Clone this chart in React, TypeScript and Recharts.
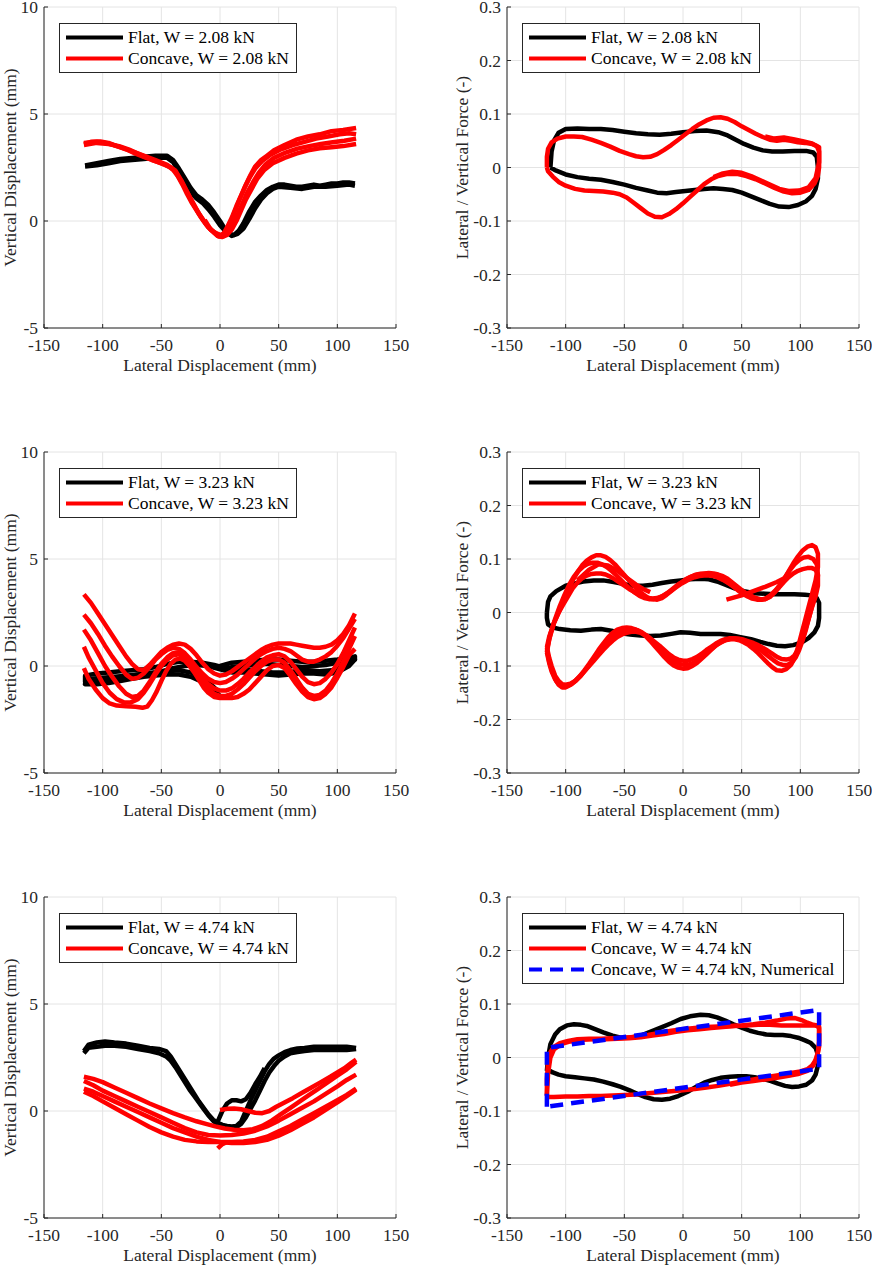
import { LineChart, Line, XAxis, YAxis, CartesianGrid, Legend } from 'recharts';

type Pt = [number, number];

const FONT = '"Liberation Serif", "Times New Roman", serif';
const FS = 17.5;
const AXIS = '#262626';

const xTicks = [-150, -100, -50, 0, 50, 100, 150];
const dispTicks = [-5, 0, 5, 10];
const forceTicks = [-0.3, -0.2, -0.1, 0, 0.1, 0.2, 0.3];

const xLabel = 'Lateral Displacement (mm)';
const dispLabel = 'Vertical Displacement (mm)';
const forceLabel = 'Lateral / Vertical Force (-)';

// ---------- W = 2.08 kN, vertical displacement ----------
const flatDisp208a: Pt[] = [[-115, 2.6], [-105, 2.7], [-95, 2.8], [-85, 2.9], [-75, 2.95], [-65, 3.0], [-55, 3.05], [-45, 3.05], [-40, 2.85], [-35, 2.45], [-30, 2.0], [-25, 1.55], [-20, 1.2], [-15, 1.0], [-10, 0.75], [-5, 0.4], [0, 0.0], [4, -0.35], [8, -0.6], [12, -0.65], [16, -0.45], [20, -0.1], [25, 0.45], [30, 0.9], [35, 1.2], [40, 1.45], [45, 1.6], [50, 1.7], [55, 1.7], [60, 1.65], [65, 1.6], [70, 1.6], [75, 1.65], [80, 1.7], [85, 1.65], [90, 1.7], [95, 1.75], [100, 1.75], [105, 1.8], [110, 1.8], [115, 1.75]];
const flatDisp208b: Pt[] = [[115, 1.65], [110, 1.7], [100, 1.65], [90, 1.6], [80, 1.6], [70, 1.5], [60, 1.55], [50, 1.6], [45, 1.5], [40, 1.3], [35, 1.0], [30, 0.6], [25, 0.1], [20, -0.35], [15, -0.6], [10, -0.7], [5, -0.5], [0, -0.2], [-5, 0.2], [-10, 0.55], [-15, 0.85], [-20, 1.05], [-25, 1.35], [-30, 1.8], [-35, 2.3], [-40, 2.75], [-45, 2.95], [-55, 2.95], [-65, 2.9], [-75, 2.85], [-85, 2.8], [-95, 2.7], [-105, 2.6], [-115, 2.55]];
const concDisp208a: Pt[] = [[-116, 3.6], [-110, 3.7], [-102, 3.72], [-95, 3.65], [-88, 3.5], [-80, 3.35], [-72, 3.15], [-65, 3.0], [-58, 2.85], [-50, 2.7], [-44, 2.55], [-40, 2.4], [-36, 2.1], [-32, 1.7], [-28, 1.25], [-24, 0.85], [-20, 0.5], [-16, 0.15], [-12, -0.15], [-8, -0.4], [-4, -0.55], [0, -0.65], [3, -0.6], [6, -0.3], [10, 0.15], [14, 0.7], [18, 1.2], [22, 1.7], [26, 2.15], [30, 2.55], [35, 2.85], [40, 3.05], [46, 3.3], [55, 3.55], [65, 3.8], [75, 3.95], [85, 4.05], [95, 4.2], [105, 4.25], [116, 4.35]];
const concDisp208b: Pt[] = [[116, 3.6], [105, 3.5], [95, 3.45], [85, 3.4], [75, 3.3], [65, 3.15], [55, 2.95], [45, 2.7], [38, 2.4], [32, 2.0], [27, 1.5], [22, 1.0], [18, 0.5], [14, 0.0], [10, -0.4], [6, -0.65], [2, -0.75], [-2, -0.7], [-6, -0.5], [-10, -0.3], [-14, 0.0], [-18, 0.35], [-22, 0.75], [-26, 1.15], [-30, 1.55], [-34, 1.95], [-38, 2.3], [-42, 2.5], [-48, 2.65], [-55, 2.8], [-62, 2.95], [-70, 3.15], [-78, 3.35], [-86, 3.5], [-95, 3.6], [-105, 3.65], [-116, 3.55]];
const concDisp208c: Pt[] = [[-116, 3.65], [-105, 3.7], [-95, 3.62], [-85, 3.45], [-75, 3.25], [-65, 3.05], [-55, 2.85], [-45, 2.62], [-38, 2.35], [-33, 1.9], [-28, 1.35], [-23, 0.8], [-18, 0.35], [-13, -0.05], [-8, -0.4], [-3, -0.6], [1, -0.7], [5, -0.45], [9, -0.05], [13, 0.5], [17, 1.05], [21, 1.55], [25, 2.0], [30, 2.45], [36, 2.8], [43, 3.1], [52, 3.35], [62, 3.55], [72, 3.7], [82, 3.85], [92, 3.95], [102, 4.05], [110, 4.1], [116, 4.05]];
const concDisp208d: Pt[] = [[116, 3.85], [106, 3.75], [96, 3.68], [86, 3.6], [76, 3.5], [66, 3.38], [56, 3.2], [46, 2.95], [39, 2.65], [33, 2.25], [28, 1.8], [23, 1.3], [19, 0.8], [15, 0.3], [11, -0.15], [7, -0.5], [3, -0.7], [-1, -0.72], [-5, -0.55], [-9, -0.3], [-13, 0.05]];

// ---------- W = 2.08 kN, force ratio ----------
const flatForce208: Pt[] = [[-113, 0.0], [-112, 0.03], [-110, 0.05], [-106, 0.065], [-100, 0.072], [-90, 0.073], [-80, 0.072], [-70, 0.072], [-60, 0.07], [-50, 0.067], [-40, 0.064], [-30, 0.062], [-20, 0.061], [-10, 0.063], [0, 0.066], [10, 0.068], [20, 0.069], [30, 0.066], [38, 0.06], [45, 0.052], [52, 0.044], [60, 0.037], [68, 0.032], [76, 0.03], [85, 0.03], [95, 0.031], [105, 0.031], [111, 0.028], [114, 0.02], [115, 0.0], [115, -0.02], [113, -0.04], [110, -0.053], [105, -0.063], [98, -0.07], [90, -0.074], [82, -0.073], [74, -0.068], [66, -0.061], [58, -0.054], [50, -0.047], [42, -0.042], [34, -0.04], [26, -0.039], [18, -0.04], [10, -0.042], [2, -0.044], [-6, -0.046], [-14, -0.048], [-22, -0.047], [-30, -0.043], [-40, -0.038], [-50, -0.032], [-60, -0.027], [-70, -0.023], [-80, -0.021], [-90, -0.018], [-100, -0.013], [-108, -0.006], [-113, 0.0]];
const concForce208a: Pt[] = [[-116, 0.0], [-116, 0.02], [-115, 0.035], [-112, 0.047], [-107, 0.054], [-100, 0.058], [-93, 0.058], [-86, 0.057], [-78, 0.052], [-70, 0.046], [-62, 0.039], [-54, 0.031], [-46, 0.025], [-40, 0.021], [-34, 0.019], [-28, 0.02], [-22, 0.025], [-16, 0.033], [-10, 0.042], [-4, 0.052], [2, 0.062], [8, 0.072], [14, 0.081], [20, 0.088], [26, 0.093], [32, 0.094], [38, 0.091], [44, 0.085], [50, 0.077], [56, 0.07], [62, 0.063], [68, 0.057], [74, 0.052], [80, 0.05], [86, 0.052], [92, 0.05], [98, 0.047], [104, 0.046], [110, 0.044], [114, 0.04], [116, 0.03], [116, 0.0], [115, -0.015], [112, -0.03], [107, -0.042], [100, -0.047], [93, -0.048], [86, -0.045], [78, -0.038], [70, -0.03], [62, -0.022], [54, -0.016], [46, -0.012], [38, -0.012], [30, -0.016], [24, -0.022], [18, -0.031], [12, -0.043], [6, -0.055], [0, -0.067], [-6, -0.078], [-12, -0.087], [-18, -0.093], [-24, -0.092], [-30, -0.086], [-36, -0.076], [-42, -0.066], [-48, -0.056], [-54, -0.05], [-60, -0.047], [-68, -0.045], [-76, -0.044], [-84, -0.043], [-92, -0.04], [-100, -0.034], [-106, -0.027], [-111, -0.017], [-115, -0.007], [-116, 0.0]];
const concForce208b: Pt[] = [[70, 0.058], [78, 0.054], [86, 0.056], [94, 0.053], [102, 0.049], [110, 0.045], [116, 0.038], [116, 0.01], [113, -0.02], [107, -0.037], [99, -0.043], [90, -0.044], [82, -0.04], [74, -0.032], [66, -0.024], [58, -0.016], [50, -0.01], [42, -0.008], [34, -0.011], [26, -0.018]];

// ---------- W = 3.23 kN, vertical displacement ----------
const flatDisp323a: Pt[] = [[0, 0.0], [10, 0.15], [20, 0.2], [30, 0.25], [40, 0.3], [50, 0.3], [60, 0.25], [70, 0.2], [80, 0.2], [90, 0.25], [100, 0.3], [108, 0.35], [115, 0.45], [115, 0.3], [105, 0.0], [95, -0.2], [85, -0.25], [75, -0.2], [65, -0.25], [55, -0.3], [45, -0.3], [35, -0.25], [25, -0.2], [15, -0.15], [5, -0.1], [-5, 0.05], [-15, 0.15], [-25, 0.2], [-35, 0.2], [-45, 0.1], [-55, -0.05], [-65, -0.15], [-75, -0.2], [-85, -0.25], [-95, -0.3], [-105, -0.35], [-115, -0.45], [-115, -0.75], [-105, -0.7], [-95, -0.65], [-85, -0.55], [-75, -0.45], [-65, -0.35], [-55, -0.3], [-45, -0.25], [-35, -0.2], [-25, -0.3], [-15, -0.55], [-8, -0.85], [-3, -1.1], [0, -1.2]];
const flatDisp323b: Pt[] = [[0, -0.2], [10, -0.05], [20, 0.0], [30, 0.05], [40, 0.1], [50, 0.05], [60, 0.0], [70, -0.05], [80, 0.0], [90, 0.05], [100, 0.15], [108, 0.2], [115, 0.3], [110, 0.0], [100, -0.3], [90, -0.4], [80, -0.35], [70, -0.35], [60, -0.4], [50, -0.45], [40, -0.4], [30, -0.35], [20, -0.3], [10, -0.3], [0, -0.15], [-10, 0.0], [-20, 0.05], [-30, 0.0], [-40, -0.1], [-50, -0.25], [-60, -0.35], [-70, -0.4], [-80, -0.45], [-90, -0.5], [-100, -0.55], [-110, -0.6], [-115, -0.85], [-105, -0.85], [-95, -0.8], [-85, -0.7], [-75, -0.6], [-65, -0.5], [-55, -0.45], [-45, -0.4], [-35, -0.4], [-25, -0.5], [-15, -0.75], [-8, -1.0], [-3, -1.25], [0, -1.4]];
const concDisp323a: Pt[] = [[-116, 3.35], [-110, 2.95], [-104, 2.45], [-98, 1.95], [-92, 1.45], [-86, 0.95], [-80, 0.45], [-75, 0.1], [-70, -0.15], [-65, -0.2], [-60, 0.05], [-55, 0.35], [-50, 0.65], [-45, 0.85], [-40, 1.0], [-35, 1.05], [-30, 1.0], [-25, 0.8], [-20, 0.5], [-15, 0.15], [-10, -0.15], [-5, -0.35], [0, -0.45], [5, -0.4], [10, -0.25], [15, -0.05], [20, 0.15], [25, 0.35], [30, 0.55], [35, 0.75], [40, 0.9], [45, 1.0], [50, 1.05], [55, 1.05], [60, 1.05], [65, 1.0], [70, 0.95], [75, 0.9], [80, 0.85], [85, 0.85], [90, 0.9], [95, 1.0], [100, 1.2], [105, 1.5], [110, 1.9], [115, 2.45]];
const concDisp323b: Pt[] = [[-116, 2.4], [-110, 2.0], [-104, 1.5], [-98, 0.95], [-92, 0.45], [-86, 0.0], [-80, -0.4], [-75, -0.6], [-70, -0.55], [-65, -0.35], [-60, -0.05], [-55, 0.3], [-50, 0.55], [-45, 0.75], [-40, 0.85], [-35, 0.8], [-30, 0.6], [-25, 0.3], [-20, -0.05], [-15, -0.35], [-10, -0.6], [-5, -0.75], [0, -0.8], [5, -0.75], [10, -0.6], [15, -0.4], [20, -0.15], [25, 0.1], [30, 0.35], [35, 0.55], [40, 0.7], [45, 0.8], [50, 0.85], [55, 0.8], [60, 0.7], [65, 0.5], [70, 0.3], [75, 0.2], [80, 0.2], [85, 0.3], [90, 0.45], [95, 0.65], [100, 0.95], [105, 1.3], [110, 1.75], [115, 2.2]];
const concDisp323c: Pt[] = [[-116, 1.7], [-110, 1.2], [-104, 0.6], [-98, 0.0], [-92, -0.5], [-86, -0.95], [-80, -1.3], [-75, -1.45], [-70, -1.4], [-65, -1.15], [-60, -0.75], [-55, -0.3], [-50, 0.1], [-45, 0.4], [-40, 0.6], [-35, 0.65], [-30, 0.5], [-25, 0.2], [-20, -0.2], [-15, -0.55], [-10, -0.85], [-5, -1.05], [0, -1.15], [5, -1.15], [10, -1.05], [15, -0.85], [20, -0.6], [25, -0.3], [30, -0.05], [35, 0.2], [40, 0.4], [45, 0.5], [50, 0.55], [55, 0.45], [60, 0.2], [65, -0.15], [70, -0.5], [75, -0.75], [80, -0.85], [85, -0.8], [90, -0.6], [95, -0.3], [100, 0.1], [105, 0.6], [110, 1.2], [115, 1.8]];
const concDisp323d: Pt[] = [[-116, 0.9], [-112, 0.4], [-106, -0.2], [-100, -0.8], [-94, -1.25], [-88, -1.55], [-82, -1.7], [-76, -1.7], [-70, -1.55], [-65, -1.25], [-60, -0.85], [-55, -0.4], [-50, 0.0], [-45, 0.3], [-40, 0.5], [-35, 0.55], [-30, 0.4], [-25, 0.1], [-20, -0.3], [-15, -0.7], [-10, -1.05], [-5, -1.3], [0, -1.4], [5, -1.4], [10, -1.3], [15, -1.1], [20, -0.85], [25, -0.55], [30, -0.25], [35, 0.0], [40, 0.2], [45, 0.3], [50, 0.3], [55, 0.15], [60, -0.2], [65, -0.6], [70, -1.0], [75, -1.3], [80, -1.4], [85, -1.35], [90, -1.15], [95, -0.8], [100, -0.35], [105, 0.2], [110, 0.8], [115, 1.4]];
const concDisp323e: Pt[] = [[-116, -0.1], [-112, -0.6], [-106, -1.1], [-100, -1.5], [-94, -1.75], [-88, -1.85], [-80, -1.88], [-72, -1.9], [-66, -1.95], [-62, -1.9], [-58, -1.6], [-54, -1.2], [-50, -0.7], [-46, -0.25], [-42, 0.1], [-38, 0.3], [-34, 0.35], [-30, 0.25], [-26, 0.0], [-22, -0.3], [-18, -0.65], [-14, -1.0], [-10, -1.25], [-5, -1.45], [0, -1.5], [5, -1.5], [10, -1.5], [15, -1.45], [20, -1.3], [25, -1.1], [30, -0.8], [35, -0.5], [40, -0.2], [45, 0.0], [50, 0.05], [55, -0.1], [60, -0.45], [65, -0.85], [70, -1.2], [75, -1.45], [80, -1.55], [85, -1.5], [90, -1.3], [95, -1.0], [100, -0.55], [105, -0.05], [110, 0.5], [115, 0.8]];

// ---------- W = 3.23 kN, force ratio ----------
const flatForce323: Pt[] = [[-116, 0.0], [-115, 0.02], [-113, 0.03], [-108, 0.04], [-100, 0.05], [-93, 0.054], [-85, 0.058], [-76, 0.06], [-68, 0.06], [-59, 0.057], [-50, 0.053], [-42, 0.05], [-34, 0.05], [-26, 0.052], [-18, 0.055], [-10, 0.058], [-2, 0.06], [6, 0.062], [15, 0.063], [22, 0.062], [29, 0.058], [36, 0.052], [44, 0.045], [52, 0.04], [61, 0.036], [70, 0.035], [78, 0.034], [86, 0.034], [95, 0.034], [104, 0.033], [110, 0.032], [114, 0.027], [116, 0.018], [116, -0.01], [115, -0.025], [112, -0.037], [107, -0.048], [101, -0.056], [94, -0.061], [87, -0.063], [80, -0.062], [73, -0.059], [66, -0.055], [58, -0.05], [49, -0.046], [40, -0.042], [32, -0.04], [24, -0.04], [15, -0.04], [6, -0.038], [-2, -0.037], [-10, -0.04], [-19, -0.043], [-28, -0.044], [-36, -0.043], [-45, -0.041], [-53, -0.039], [-61, -0.034], [-70, -0.031], [-78, -0.032], [-87, -0.034], [-96, -0.033], [-105, -0.031], [-111, -0.028], [-115, -0.022], [-116, -0.01], [-116, 0.0]];
const concForce323a: Pt[] = [[-116, -0.075], [-114, -0.05], [-110, -0.02], [-106, 0.0], [-102, 0.02], [-98, 0.04], [-94, 0.06], [-90, 0.075], [-86, 0.088], [-82, 0.097], [-78, 0.103], [-74, 0.107], [-70, 0.107], [-66, 0.104], [-62, 0.098], [-58, 0.09], [-54, 0.08], [-50, 0.07], [-46, 0.06], [-42, 0.05], [-38, 0.041], [-34, 0.034], [-30, 0.028], [-26, 0.025], [-22, 0.024], [-18, 0.027], [-14, 0.033], [-10, 0.04], [-6, 0.048], [-2, 0.055], [2, 0.061], [6, 0.066], [10, 0.07], [14, 0.072], [18, 0.073], [22, 0.074], [26, 0.073], [30, 0.071], [34, 0.068], [38, 0.063], [42, 0.056], [46, 0.049], [50, 0.042], [54, 0.036], [58, 0.031], [62, 0.027], [66, 0.025], [70, 0.025], [74, 0.029], [78, 0.037], [82, 0.048], [86, 0.062], [90, 0.077], [94, 0.092], [98, 0.105], [102, 0.116], [106, 0.123], [110, 0.126], [113, 0.122], [115, 0.11], [115, 0.085], [113, 0.06], [110, 0.035], [107, 0.01], [104, -0.015], [101, -0.04], [98, -0.065], [95, -0.085], [92, -0.098], [88, -0.106], [84, -0.109], [80, -0.108], [76, -0.102], [72, -0.094], [68, -0.085], [64, -0.076], [60, -0.068], [56, -0.061], [52, -0.056], [48, -0.052], [44, -0.05], [40, -0.05], [36, -0.052], [32, -0.056], [28, -0.062], [24, -0.07], [20, -0.078], [16, -0.086], [12, -0.094], [8, -0.1], [4, -0.104], [0, -0.105], [-4, -0.103], [-8, -0.099], [-12, -0.092], [-16, -0.083], [-20, -0.073], [-24, -0.063], [-28, -0.053], [-32, -0.044], [-36, -0.037], [-40, -0.032], [-44, -0.029], [-48, -0.028], [-52, -0.029], [-56, -0.032], [-60, -0.038], [-64, -0.047], [-68, -0.058], [-72, -0.07], [-76, -0.083], [-80, -0.096], [-84, -0.108], [-88, -0.119], [-92, -0.128], [-96, -0.135], [-100, -0.14], [-103, -0.14], [-106, -0.135], [-109, -0.125], [-112, -0.11], [-114, -0.095], [-116, -0.075]];
const concForce323b: Pt[] = [[-116, -0.065], [-114, -0.045], [-110, -0.02], [-106, 0.0], [-102, 0.015], [-98, 0.03], [-94, 0.045], [-90, 0.056], [-86, 0.064], [-82, 0.069], [-78, 0.072], [-74, 0.073], [-70, 0.073], [-66, 0.071], [-62, 0.067], [-58, 0.062], [-54, 0.056], [-50, 0.05], [-46, 0.044], [-42, 0.039], [-38, 0.034], [-34, 0.03], [-30, 0.027], [-26, 0.026], [-22, 0.027], [-18, 0.03], [-14, 0.035], [-10, 0.041], [-6, 0.047], [-2, 0.053], [2, 0.058], [6, 0.063], [10, 0.066], [14, 0.068], [18, 0.069], [22, 0.069], [26, 0.068], [30, 0.065], [34, 0.061], [38, 0.056], [42, 0.05], [46, 0.044], [50, 0.038], [54, 0.033], [58, 0.029], [62, 0.026], [66, 0.024], [70, 0.025], [74, 0.03], [78, 0.038], [82, 0.047], [86, 0.057], [90, 0.066], [94, 0.073], [98, 0.078], [102, 0.081], [106, 0.083], [110, 0.083], [113, 0.08], [115, 0.07], [115, 0.05], [113, 0.03], [110, 0.01], [107, -0.012], [104, -0.035], [101, -0.055], [98, -0.07], [95, -0.08], [92, -0.086], [88, -0.088], [84, -0.087], [80, -0.083], [76, -0.077], [72, -0.071], [68, -0.066], [64, -0.061], [60, -0.057], [56, -0.054], [52, -0.051], [48, -0.049], [44, -0.048], [40, -0.048], [36, -0.05], [32, -0.053], [28, -0.058], [24, -0.064], [20, -0.07], [16, -0.077], [12, -0.083], [8, -0.087], [4, -0.09], [0, -0.09], [-4, -0.088], [-8, -0.084], [-12, -0.078], [-16, -0.07], [-20, -0.062], [-24, -0.055], [-28, -0.048], [-32, -0.042], [-36, -0.038], [-40, -0.036], [-44, -0.036], [-48, -0.038], [-52, -0.041], [-56, -0.046], [-60, -0.053], [-64, -0.061], [-68, -0.07], [-72, -0.08], [-76, -0.09], [-80, -0.1], [-84, -0.11], [-88, -0.12], [-92, -0.128], [-96, -0.133], [-100, -0.135], [-103, -0.134], [-106, -0.128], [-109, -0.118], [-112, -0.1], [-114, -0.085], [-116, -0.065]];
const concForce323c: Pt[] = [[-116, -0.07], [-113, -0.04], [-109, -0.012], [-105, 0.012], [-101, 0.033], [-97, 0.052], [-93, 0.067], [-89, 0.078], [-85, 0.086], [-81, 0.091], [-77, 0.093], [-73, 0.093], [-69, 0.09], [-65, 0.085], [-61, 0.078], [-57, 0.07], [-53, 0.061], [-49, 0.052], [-45, 0.044], [-41, 0.037], [-37, 0.031], [-33, 0.027], [-29, 0.025], [-25, 0.025], [-21, 0.027], [-17, 0.031], [-13, 0.037], [-9, 0.044], [-5, 0.051], [-1, 0.057], [3, 0.063], [7, 0.067], [11, 0.07], [15, 0.072], [19, 0.072], [23, 0.071], [27, 0.069], [31, 0.066], [35, 0.061], [39, 0.055], [43, 0.048], [47, 0.041], [51, 0.035], [55, 0.03], [59, 0.026], [63, 0.024], [67, 0.024], [71, 0.027], [75, 0.033], [79, 0.042], [83, 0.053], [87, 0.066], [91, 0.079], [95, 0.09], [99, 0.098], [103, 0.103], [107, 0.104], [111, 0.1], [114, 0.09], [115, 0.07], [114, 0.045], [111, 0.02], [108, -0.005], [105, -0.03], [102, -0.052], [99, -0.07], [96, -0.084], [93, -0.093], [89, -0.098], [85, -0.098], [81, -0.095], [77, -0.089], [73, -0.082], [69, -0.075], [65, -0.068], [61, -0.062], [57, -0.057], [53, -0.053], [49, -0.05], [45, -0.049], [41, -0.049], [37, -0.051], [33, -0.055], [29, -0.06], [25, -0.067], [21, -0.074], [17, -0.082], [13, -0.089], [9, -0.094], [5, -0.097], [1, -0.098], [-3, -0.096], [-7, -0.092], [-11, -0.086], [-15, -0.078], [-19, -0.069], [-23, -0.06], [-27, -0.051], [-31, -0.043], [-35, -0.037], [-39, -0.033], [-43, -0.031], [-47, -0.031], [-51, -0.033], [-55, -0.037], [-59, -0.043], [-63, -0.051], [-67, -0.061], [-71, -0.072], [-75, -0.084], [-79, -0.096], [-83, -0.107], [-87, -0.118], [-91, -0.127], [-95, -0.134], [-99, -0.138], [-102, -0.139], [-105, -0.136], [-108, -0.128], [-111, -0.113], [-114, -0.092], [-116, -0.07]];
const concForce323start: Pt[] = [[37, 0.024], [50, 0.032], [60, 0.04], [70, 0.048], [80, 0.057], [88, 0.066]];
const concForce323end: Pt[] = [[-90, 0.06], [-80, 0.08], [-72, 0.09], [-64, 0.088], [-56, 0.078], [-48, 0.065], [-40, 0.052], [-34, 0.044], [-28, 0.038]];

// ---------- W = 4.74 kN, vertical displacement ----------
const flatDisp474a: Pt[] = [[-116, 2.8], [-112, 3.1], [-105, 3.2], [-98, 3.25], [-90, 3.2], [-80, 3.15], [-70, 3.05], [-60, 2.95], [-52, 2.9], [-46, 2.8], [-42, 2.55], [-38, 2.2], [-34, 1.85], [-30, 1.5], [-26, 1.15], [-22, 0.8], [-18, 0.45], [-14, 0.15], [-10, -0.15], [-6, -0.4], [-2, -0.55], [2, -0.65], [6, -0.7], [10, -0.72], [14, -0.7], [18, -0.5], [22, 0.0], [26, 0.5], [30, 0.95], [34, 1.4], [38, 1.85], [42, 2.2], [46, 2.45], [50, 2.6], [55, 2.75], [60, 2.85], [66, 2.92], [72, 2.95], [80, 3.0], [90, 3.0], [100, 3.0], [108, 3.0], [116, 2.95]];
const flatDisp474b: Pt[] = [[116, 2.9], [108, 2.85], [100, 2.85], [90, 2.85], [80, 2.85], [72, 2.8], [66, 2.75], [60, 2.7], [55, 2.55], [50, 2.35], [46, 2.1], [42, 1.8], [38, 1.4], [34, 0.95], [30, 0.5], [26, 0.1], [22, -0.3], [18, -0.6], [14, -0.75], [10, -0.8], [6, -0.8], [2, -0.75], [-2, -0.65], [-6, -0.45], [-10, -0.2], [-14, 0.1], [-18, 0.4], [-22, 0.7], [-26, 1.0], [-30, 1.35], [-34, 1.7], [-38, 2.05], [-42, 2.35], [-46, 2.55], [-52, 2.7], [-60, 2.8], [-70, 2.9], [-80, 3.0], [-90, 3.05], [-98, 3.05], [-105, 3.0], [-112, 2.95], [-116, 2.7]];
const flatDisp474c: Pt[] = [[-2, -0.5], [2, 0.0], [6, 0.35], [10, 0.5], [14, 0.5], [18, 0.45], [22, 0.55], [26, 0.85], [30, 1.25], [34, 1.6], [38, 2.0]];
const concDisp474start: Pt[] = [[0, 0.05], [6, 0.1], [12, 0.12], [18, 0.08], [24, 0.0], [30, -0.08], [36, -0.1], [42, 0.0], [48, 0.2], [55, 0.4], [62, 0.6], [70, 0.85], [78, 1.1], [86, 1.35], [94, 1.6], [100, 1.8], [106, 2.0], [112, 2.25], [116, 2.4]];
const concDisp474a: Pt[] = [[116, 2.3], [108, 1.95], [100, 1.65], [92, 1.35], [84, 1.05], [76, 0.75], [68, 0.45], [60, 0.15], [52, -0.15], [44, -0.45], [36, -0.7], [28, -0.85], [20, -0.9], [12, -0.88], [4, -0.82], [-4, -0.72], [-12, -0.6], [-20, -0.48], [-30, -0.3], [-40, -0.1], [-50, 0.12], [-60, 0.35], [-70, 0.6], [-80, 0.85], [-90, 1.1], [-100, 1.35], [-108, 1.5], [-116, 1.6]];
const concDisp474b: Pt[] = [[-116, 1.4], [-108, 1.2], [-100, 0.95], [-90, 0.7], [-80, 0.45], [-70, 0.2], [-60, -0.05], [-50, -0.3], [-40, -0.55], [-30, -0.8], [-20, -1.0], [-10, -1.12], [0, -1.15], [10, -1.12], [20, -1.05], [30, -0.92], [40, -0.72], [50, -0.45], [60, -0.15], [70, 0.15], [80, 0.45], [90, 0.8], [100, 1.15], [108, 1.45], [116, 1.7]];
const concDisp474c: Pt[] = [[116, 1.0], [108, 0.7], [100, 0.4], [90, 0.05], [80, -0.3], [70, -0.6], [60, -0.9], [50, -1.15], [40, -1.35], [30, -1.45], [20, -1.5], [10, -1.5], [0, -1.45], [-10, -1.35], [-20, -1.2], [-30, -1.0], [-40, -0.8], [-50, -0.55], [-60, -0.3], [-70, -0.05], [-80, 0.2], [-90, 0.45], [-100, 0.7], [-108, 0.9], [-116, 1.05]];
const concDisp474d: Pt[] = [[-116, 0.9], [-108, 0.7], [-100, 0.45], [-90, 0.15], [-80, -0.15], [-70, -0.45], [-60, -0.75], [-50, -1.0], [-40, -1.2], [-30, -1.35], [-20, -1.42], [-10, -1.45], [0, -1.45], [10, -1.45], [20, -1.42], [30, -1.35], [40, -1.2], [50, -0.95], [60, -0.7], [70, -0.4], [80, -0.1], [90, 0.2], [100, 0.5], [108, 0.75], [116, 1.05]];
const concDisp474end: Pt[] = [[-2, -1.75], [2, -1.55], [6, -1.45]];

// ---------- W = 4.74 kN, force ratio ----------
const flatForce474: Pt[] = [[-116, -0.025], [-115, 0.0], [-113, 0.025], [-109, 0.043], [-105, 0.053], [-99, 0.06], [-93, 0.062], [-87, 0.061], [-82, 0.059], [-75, 0.053], [-68, 0.047], [-60, 0.041], [-53, 0.037], [-45, 0.037], [-36, 0.041], [-28, 0.048], [-19, 0.056], [-10, 0.064], [-2, 0.072], [6, 0.077], [15, 0.08], [22, 0.079], [29, 0.075], [36, 0.069], [43, 0.062], [50, 0.056], [57, 0.05], [64, 0.046], [71, 0.043], [78, 0.042], [85, 0.042], [92, 0.04], [98, 0.037], [104, 0.032], [109, 0.027], [113, 0.018], [115, 0.005], [115, -0.015], [113, -0.032], [110, -0.043], [105, -0.051], [99, -0.054], [93, -0.055], [87, -0.053], [81, -0.049], [75, -0.044], [68, -0.04], [61, -0.037], [54, -0.035], [47, -0.035], [40, -0.036], [32, -0.038], [25, -0.042], [18, -0.047], [11, -0.055], [4, -0.064], [-4, -0.072], [-11, -0.077], [-18, -0.079], [-25, -0.078], [-32, -0.074], [-39, -0.068], [-46, -0.061], [-53, -0.055], [-60, -0.05], [-68, -0.045], [-76, -0.041], [-84, -0.039], [-92, -0.037], [-100, -0.035], [-106, -0.032], [-111, -0.028], [-114, -0.024], [-116, -0.025]];
const concForce474a: Pt[] = [[-116, -0.072], [-116, -0.04], [-115, -0.01], [-113, 0.01], [-110, 0.02], [-105, 0.027], [-98, 0.031], [-90, 0.034], [-80, 0.035], [-70, 0.035], [-60, 0.036], [-50, 0.037], [-40, 0.039], [-30, 0.042], [-20, 0.046], [-10, 0.05], [0, 0.053], [10, 0.055], [20, 0.057], [30, 0.058], [40, 0.059], [50, 0.06], [60, 0.062], [70, 0.065], [80, 0.069], [88, 0.073], [95, 0.074], [101, 0.07], [106, 0.065], [110, 0.062], [114, 0.06], [116, 0.055], [116, 0.03], [115, 0.01], [113, -0.005], [110, -0.015], [106, -0.022], [100, -0.026], [92, -0.029], [84, -0.032], [76, -0.035], [68, -0.038], [60, -0.041], [50, -0.045], [40, -0.049], [30, -0.053], [20, -0.056], [10, -0.059], [0, -0.061], [-10, -0.063], [-20, -0.065], [-30, -0.067], [-40, -0.069], [-50, -0.07], [-60, -0.071], [-70, -0.072], [-80, -0.072], [-90, -0.073], [-100, -0.073], [-110, -0.074], [-116, -0.074]];
const concForce474b: Pt[] = [[-116, -0.07], [-115, -0.03], [-113, 0.0], [-110, 0.015], [-104, 0.025], [-96, 0.03], [-86, 0.033], [-76, 0.034], [-66, 0.034], [-56, 0.035], [-46, 0.036], [-36, 0.038], [-26, 0.041], [-16, 0.044], [-6, 0.048], [4, 0.051], [14, 0.053], [24, 0.055], [34, 0.057], [44, 0.059], [54, 0.06], [64, 0.061], [74, 0.061], [84, 0.06], [94, 0.06], [104, 0.06], [112, 0.06], [116, 0.058], [116, 0.02], [114, 0.0], [111, -0.015], [106, -0.025], [98, -0.031], [90, -0.034], [80, -0.038], [70, -0.041], [60, -0.044], [50, -0.047], [40, -0.051]];
const numForce474: Pt[] = [[-116, -0.092], [-116, 0.018], [116, 0.089], [116, -0.021], [-116, -0.092]];

type Series = { data: Pt[]; color: string; dash?: string };
type LegendItem = { label: string; color: string; dash?: string };

const BLACK = '#000000';
const RED = '#ff0000';
const BLUE = '#0000ff';
const DASH = '13 8';

const toRows = (a: Pt[]) => a.map(([x, y]) => ({ x, y }));

const LegendBox = ({ items, width }: { items: LegendItem[]; width: number }) => (
  <div
    style={{
      width,
      boxSizing: 'border-box',
      border: `1px solid ${AXIS}`,
      background: '#fff',
      padding: '3px 0',
      fontFamily: FONT,
      fontSize: FS,
      color: '#000',
    }}
  >
    {items.map((it) => (
      <div key={it.label} style={{ display: 'flex', alignItems: 'center', height: 21 }}>
        <svg width={64} height={21} style={{ flex: 'none' }}>
          <line x1={6} x2={63} y1={10.5} y2={10.5} stroke={it.color} strokeWidth={4} strokeDasharray={it.dash} />
        </svg>
        <span style={{ marginLeft: 4, whiteSpace: 'nowrap', lineHeight: '21px' }}>{it.label}</span>
      </div>
    ))}
  </div>
);

interface PanelProps {
  left: number;
  top: number;
  yAxisW: number;
  yLabelX: number;
  rightPad: number;
  yLabel: string;
  yDomain: [number, number];
  yTicks: number[];
  series: Series[];
  legend: LegendItem[];
  legendW: number;
}

const PLOT_W = 352;
const PLOT_H = 321;

const Panel = ({ left, top, yAxisW, yLabelX, rightPad, yLabel, yDomain, yTicks, series, legend, legendW }: PanelProps) => {
  const width = yAxisW + PLOT_W + rightPad;
  const height = 10 + PLOT_H + 45 + 8;
  const tickStyle = { fontSize: FS, fontFamily: FONT, fill: AXIS };
  return (
    <div style={{ position: 'absolute', left, top: top - 10 }}>
      <LineChart width={width} height={height} margin={{ top: 10, right: rightPad, bottom: 8, left: 0 }}>
        <CartesianGrid stroke="#e4e4e4" strokeWidth={1} />
        <XAxis
          type="number"
          dataKey="x"
          domain={[-150, 150]}
          ticks={xTicks}
          interval={0}
          height={45}
          tickSize={-4}
          tickMargin={15}
          stroke={AXIS}
          tick={tickStyle}
          label={{ value: xLabel, position: 'insideBottom', offset: 2, style: { fontSize: FS, fontFamily: FONT, fill: AXIS } }}
        />
        <XAxis xAxisId="top" orientation="top" type="number" domain={[-150, 150]} ticks={xTicks} interval={0} height={0} tickSize={-4} tick={false} stroke={AXIS} />
        <YAxis
          type="number"
          domain={yDomain}
          ticks={yTicks}
          interval={0}
          width={yAxisW}
          tickSize={-4}
          tickMargin={10}
          stroke={AXIS}
          tick={tickStyle}
          label={{ value: yLabel, angle: -90, position: 'insideLeft', offset: yLabelX, style: { textAnchor: 'middle', fontSize: FS, fontFamily: FONT, fill: AXIS } }}
        />
        <YAxis yAxisId="right" orientation="right" type="number" domain={yDomain} ticks={yTicks} interval={0} width={0} tickSize={-4} tick={false} stroke={AXIS} />
        {series.map((s, i) => (
          <Line
            key={i}
            data={toRows(s.data)}
            dataKey="y"
            type="linear"
            stroke={s.color}
            strokeWidth={4.5}
            strokeDasharray={s.dash}
            strokeLinejoin="round"
            dot={false}
            activeDot={false}
            legendType="none"
            isAnimationActive={false}
          />
        ))}
        <Legend
          layout="vertical"
          align="center"
          verticalAlign="middle"
          wrapperStyle={{ left: yAxisW + 15, top: 10 + 16, width: legendW }}
          content={() => <LegendBox items={legend} width={legendW} />}
        />
      </LineChart>
    </div>
  );
};

const dispPanel = (w: string, series: Series[]) => ({
  yLabel: dispLabel,
  yDomain: [-5, 10] as [number, number],
  yTicks: dispTicks,
  series,
  legend: [
    { label: `Flat, W = ${w} kN`, color: BLACK },
    { label: `Concave, W = ${w} kN`, color: RED },
  ],
  legendW: 238,
});

const forcePanel = (w: string, series: Series[], legend?: LegendItem[], legendW = 238) => ({
  yLabel: forceLabel,
  yDomain: [-0.3, 0.3] as [number, number],
  yTicks: forceTicks,
  series,
  legend: legend ?? [
    { label: `Flat, W = ${w} kN`, color: BLACK },
    { label: `Concave, W = ${w} kN`, color: RED },
  ],
  legendW,
});

const rowTops = [7, 452, 897];
const LEFT_COL = { left: 0, yAxisW: 44, yLabelX: 10, rightPad: 30 };
const RIGHT_COL = { left: 440, yAxisW: 67, yLabelX: 22, rightPad: 14 };

const App = () => {
  const k = (d: Pt[], color: string, dash?: string): Series => ({ data: d, color, dash });
  return (
    <div style={{ position: 'absolute', left: 0, top: 0, width: 872, height: 1265, background: '#fff', fontFamily: FONT }}>
      <Panel
        top={rowTops[0]}
        {...LEFT_COL}
        {...dispPanel('2.08', [k(flatDisp208a, BLACK), k(flatDisp208b, BLACK), k(concDisp208a, RED), k(concDisp208b, RED), k(concDisp208c, RED), k(concDisp208d, RED)])}
      />
      <Panel
        top={rowTops[0]}
        {...RIGHT_COL}
        {...forcePanel('2.08', [k(flatForce208, BLACK), k(concForce208a, RED), k(concForce208b, RED)])}
      />
      <Panel
        top={rowTops[1]}
        {...LEFT_COL}
        {...dispPanel('3.23', [
          k(flatDisp323a, BLACK),
          k(flatDisp323b, BLACK),
          k(concDisp323a, RED),
          k(concDisp323b, RED),
          k(concDisp323c, RED),
          k(concDisp323d, RED),
          k(concDisp323e, RED),
        ])}
      />
      <Panel
        top={rowTops[1]}
        {...RIGHT_COL}
        {...forcePanel('3.23', [
          k(flatForce323, BLACK),
          k(concForce323a, RED),
          k(concForce323b, RED),
          k(concForce323c, RED),
          k(concForce323start, RED),
          k(concForce323end, RED),
        ])}
      />
      <Panel
        top={rowTops[2]}
        {...LEFT_COL}
        {...dispPanel('4.74', [
          k(flatDisp474a, BLACK),
          k(flatDisp474b, BLACK),
          k(flatDisp474c, BLACK),
          k(concDisp474start, RED),
          k(concDisp474a, RED),
          k(concDisp474b, RED),
          k(concDisp474c, RED),
          k(concDisp474d, RED),
          k(concDisp474end, RED),
        ])}
      />
      <Panel
        top={rowTops[2]}
        {...RIGHT_COL}
        {...forcePanel(
          '4.74',
          [k(flatForce474, BLACK), k(concForce474a, RED), k(concForce474b, RED), k(numForce474, BLUE, DASH)],
          [
            { label: 'Flat, W = 4.74 kN', color: BLACK },
            { label: 'Concave, W = 4.74 kN', color: RED },
            { label: 'Concave, W = 4.74 kN, Numerical', color: BLUE, dash: DASH },
          ],
          322,
        )}
      />
    </div>
  );
};

export default App;
